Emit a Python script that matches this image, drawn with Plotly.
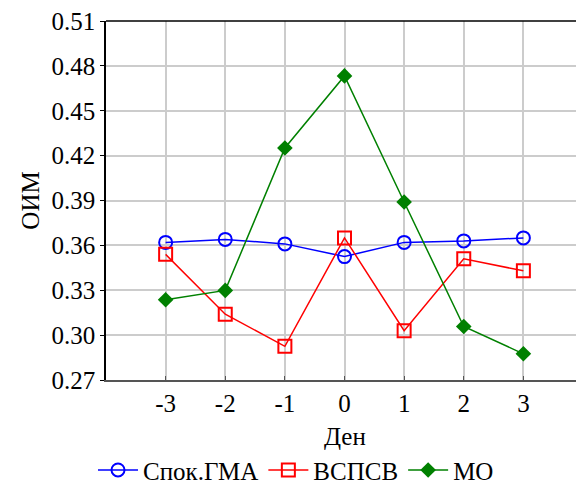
import plotly.graph_objects as go

days = [-3, -2, -1, 0, 1, 2, 3]
spok_gma = [0.362, 0.364, 0.361, 0.3525, 0.362, 0.363, 0.365]
vspsv = [0.354, 0.314, 0.2925, 0.365, 0.303, 0.351, 0.343]
mo = [0.3236, 0.3299, 0.4251, 0.4733, 0.389, 0.3058, 0.2875]
y_ticks = [0.27, 0.30, 0.33, 0.36, 0.39, 0.42, 0.45, 0.48, 0.51]

font = "Liberation Serif"
fs = 25

fig = go.Figure()
fig.add_trace(go.Scatter(
    x=days, y=spok_gma, name="Спок.ГМА", mode="lines+markers",
    line=dict(color="#0000ff", width=1.5),
    marker=dict(symbol="circle-open", size=13, color="#0000ff", line=dict(width=2)),
))
fig.add_trace(go.Scatter(
    x=days, y=vspsv, name="ВСПСВ", mode="lines+markers",
    line=dict(color="#ff0000", width=1.5),
    marker=dict(symbol="square-open", size=13, color="#ff0000", line=dict(width=2)),
))
fig.add_trace(go.Scatter(
    x=days, y=mo, name="МО", mode="lines+markers",
    line=dict(color="#008000", width=1.5),
    marker=dict(symbol="diamond", size=12, color="#008000"),
))

fig.add_shape(type="line", xref="paper", yref="paper", x0=0, x1=1, y0=1, y1=1,
              line=dict(color="black", width=1.5))

fig.add_annotation(text="Ден", xref="paper", yref="paper", x=0.5, y=-0.158,
                   showarrow=False, xanchor="center", yanchor="middle",
                   font=dict(family=font, size=fs, color="black"))
fig.add_annotation(text="ОИМ", xref="paper", yref="paper", x=-0.159, y=0.5,
                   showarrow=False, xanchor="center", yanchor="middle", textangle=-90,
                   font=dict(family=font, size=fs, color="black"))

fig.update_layout(
    width=576, height=483,
    margin=dict(l=98, r=1, t=13, b=111),
    paper_bgcolor="white", plot_bgcolor="white",
    font=dict(family=font, size=fs, color="black"),
    showlegend=True,
    legend=dict(orientation="h", xref="container", x=0.5, xanchor="center",
                yref="container", y=0.043, yanchor="middle",
                font=dict(family=font, size=fs, color="black"), itemwidth=40, tracegroupgap=0,
                bgcolor="rgba(0,0,0,0)"),
    xaxis=dict(
        range=[-4, 4], tickvals=days, ticktext=[str(d) for d in days],
        tickfont=dict(family=font, size=fs, color="black"),
        showgrid=True, gridcolor="#cccccc", gridwidth=1.5,
        showline=True, linecolor="#555555", linewidth=1.5,
        ticks="inside", ticklen=4, tickcolor="#555555",
        zeroline=False, automargin=False, ticklabeloverflow="allow",
    ),
    yaxis=dict(
        range=[0.27, 0.51], tickvals=y_ticks, ticktext=[f"{v:.2f}" for v in y_ticks],
        tickfont=dict(family=font, size=fs, color="black"),
        showgrid=True, gridcolor="#cccccc", gridwidth=1.5,
        showline=True, linecolor="black", linewidth=1.5,
        ticks="outside", ticklen=4, tickcolor="black",
        zeroline=False, automargin=False, ticklabeloverflow="allow",
    ),
)

fig.write_html("out.html")
